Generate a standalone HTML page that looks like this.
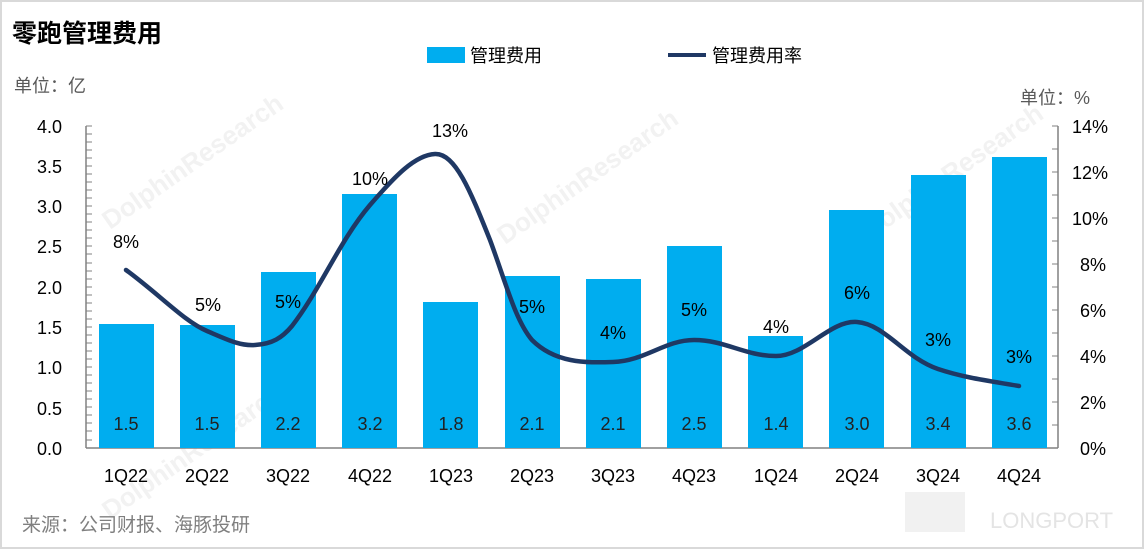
<!DOCTYPE html>
<html><head><meta charset="utf-8"><style>
body{margin:0;background:#fff;}
svg{display:block;font-family:"Liberation Sans","Noto Sans CJK SC",sans-serif;}
</style></head><body>
<svg width="1144" height="549" viewBox="0 0 1144 549">
<rect x="1" y="1" width="1142" height="547" fill="#fff" stroke="#d9d9d9" stroke-width="2"/>
<text x="12" y="42" font-size="25" font-weight="bold" fill="#000">零跑管理费用</text>
<g fill="#f2f2f2" font-size="26" font-weight="bold">
<text transform="translate(110,230) rotate(-35)">DolphinResearch</text>
<text transform="translate(505,245) rotate(-35)">DolphinResearch</text>
<text transform="translate(870,240) rotate(-35)">DolphinResearch</text>
<text transform="translate(110,520) rotate(-35)">DolphinResearch</text>
</g>
<text x="990" y="528" font-size="22" fill="#e4e4e4">LONGPORT</text>
<rect x="905" y="492" width="60" height="40" fill="#f1f1f1"/>
<rect x="427" y="47" width="38" height="16" fill="#00adef"/>
<text x="470" y="62" font-size="18">管理费用</text>
<line x1="668" y1="55" x2="706" y2="55" stroke="#1f3864" stroke-width="4"/>
<text x="712" y="62" font-size="18">管理费用率</text>
<text x="14" y="92" font-size="18" fill="#595959">单位：亿</text>
<text x="1020" y="104" font-size="18" fill="#595959">单位：%</text>
<line x1="86" y1="126" x2="86" y2="448" stroke="#808080" stroke-width="1.5"/>
<line x1="1058" y1="126" x2="1058" y2="448" stroke="#808080" stroke-width="1.5"/>
<line x1="86" y1="448" x2="1058" y2="448" stroke="#808080" stroke-width="1.5"/>
<g stroke="#808080" stroke-width="1">
<path d="M86 126h6M86 134h6M86 142h6M86 150h6M86 158h6M86 166h6M86 174h6M86 182h6M86 190h6M86 198h6M86 206h6M86 214h6M86 222h6M86 230h6M86 238h6M86 246h6M86 254h6M86 263h6M86 271h6M86 279h6M86 287h6M86 295h6M86 303h6M86 311h6M86 319h6M86 327h6M86 335h6M86 343h6M86 351h6M86 359h6M86 367h6M86 375h6M86 383h6M86 391h6M86 399h6M86 407h6M86 415h6M86 423h6M86 431h6M86 440h6"/>
<path d="M1058 126h-6M1058 149h-6M1058 172h-6M1058 195h-6M1058 218h-6M1058 241h-6M1058 264h-6M1058 287h-6M1058 310h-6M1058 333h-6M1058 356h-6M1058 379h-6M1058 402h-6M1058 425h-6"/>
</g>
<g font-size="18" text-anchor="end">
<text x="62" y="133">4.0</text><text x="62" y="173">3.5</text><text x="62" y="213">3.0</text><text x="62" y="253">2.5</text>
<text x="62" y="294">2.0</text><text x="62" y="334">1.5</text><text x="62" y="374">1.0</text><text x="62" y="415">0.5</text><text x="62" y="455">0.0</text>
</g>
<g font-size="18" text-anchor="start">
<text x="1072" y="133">14%</text><text x="1072" y="179">12%</text><text x="1072" y="225">10%</text><text x="1080" y="271">8%</text><text x="1080" y="317">6%</text><text x="1080" y="363">4%</text><text x="1080" y="409">2%</text><text x="1080" y="455">0%</text>
</g>
<g fill="#00adef">
<rect x="99" y="324" width="55" height="124"/>
<rect x="180" y="325" width="55" height="123"/>
<rect x="261" y="272" width="55" height="176"/>
<rect x="342" y="194" width="55" height="254"/>
<rect x="423" y="302" width="55" height="146"/>
<rect x="505" y="276" width="55" height="172"/>
<rect x="586" y="279" width="55" height="169"/>
<rect x="667" y="246" width="55" height="202"/>
<rect x="748" y="336" width="55" height="112"/>
<rect x="829" y="210" width="55" height="238"/>
<rect x="911" y="175" width="55" height="273"/>
<rect x="992" y="157" width="55" height="291"/>
</g>
<g font-size="18" text-anchor="middle" fill="#222">
<text x="126" y="430">1.5</text><text x="207" y="430">1.5</text><text x="288" y="430">2.2</text><text x="370" y="430">3.2</text><text x="451" y="430">1.8</text><text x="532" y="430">2.1</text><text x="613" y="430">2.1</text><text x="694" y="430">2.5</text><text x="776" y="430">1.4</text><text x="857" y="430">3.0</text><text x="938" y="430">3.4</text><text x="1019" y="430">3.6</text>
</g>
<g font-size="18" text-anchor="middle">
<text x="126" y="482">1Q22</text><text x="207" y="482">2Q22</text><text x="288" y="482">3Q22</text><text x="370" y="482">4Q22</text><text x="451" y="482">1Q23</text><text x="532" y="482">2Q23</text><text x="613" y="482">3Q23</text><text x="694" y="482">4Q23</text><text x="776" y="482">1Q24</text><text x="857" y="482">2Q24</text><text x="938" y="482">3Q24</text><text x="1019" y="482">4Q24</text>
</g>
<path d="M126,270 C160,295 185,322 207,331 C228,340 240,346 255,345 C272,344 282,338 292,326 C320,290 340,240 370,205 C395,176 415,155 435,154 C455,153 470,190 490,240 C505,280 515,320 532,340 C555,363 585,363 613,362 C645,361 665,340 694,340 C725,340 745,356 776,356 C805,356 830,320 857,322 C885,324 905,358 938,369 C965,378 990,381 1019,386" fill="none" stroke="#1f3864" stroke-width="4.5" stroke-linecap="round"/>
<g font-size="18" text-anchor="middle">
<text x="126" y="248">8%</text><text x="208" y="311">5%</text><text x="288" y="308">5%</text><text x="370" y="185">10%</text><text x="450" y="137">13%</text><text x="532" y="313">5%</text><text x="613" y="339">4%</text><text x="694" y="316">5%</text><text x="776" y="333">4%</text><text x="857" y="299">6%</text><text x="938" y="346">3%</text><text x="1019" y="363">3%</text>
</g>
<text x="22" y="531" font-size="19" fill="#7f7f7f">来源：公司财报、海豚投研</text>
</svg>
</body></html>
